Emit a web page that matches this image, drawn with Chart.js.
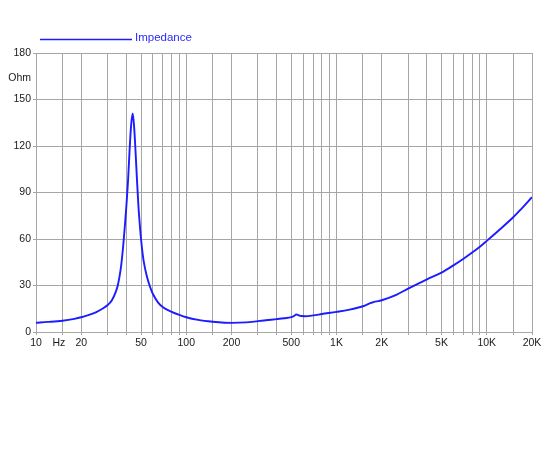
<!DOCTYPE html>
<html lang="en">
<head>
    <meta charset="UTF-8">
    <title>Impedance</title>
    <script src="https://cdn.jsdelivr.net/npm/chart.js"></script>
    <style>
        body {
            margin: 0;
            padding: 0;
            background: #ffffff;
        }
        #chart {
            display: block;
        }
    </style>
</head>
<body>
    <canvas id="chart" width="550" height="450"></canvas>

    <script>
        // impedance curve (Hz, Ohm)
        const freqs = [10, 12, 15, 18, 20, 22, 25, 28, 30, 32, 34, 35, 36, 37, 38, 39, 40, 41, 42, 43, 44, 45, 46, 47, 48, 49, 50, 52, 55, 58, 60, 65, 70, 80, 90, 100, 120, 150, 180, 200, 250, 300, 350, 400, 450, 500, 520, 540, 560, 580, 620, 700, 800, 1000, 1200, 1500, 1700, 1800, 1900, 2000, 2500, 3000, 4000, 5000, 6000, 7000, 8000, 9000, 10000, 12000, 15000, 17000, 20000];
        const ohms = [6.0, 6.5, 7.3, 8.5, 9.5, 10.7, 12.7, 15.3, 17.4, 20.5, 26, 30, 36, 44, 55, 68, 82, 98, 118, 134, 141, 132, 116, 98, 82, 70, 60, 46, 35, 28, 24.5, 19, 16, 13, 11, 9.5, 7.8, 6.6, 6.0, 5.9, 6.2, 7.0, 7.7, 8.3, 8.9, 9.6, 10.2, 11.3, 10.8, 10.3, 10.2, 10.7, 11.6, 13, 14.3, 16.6, 18.8, 19.6, 19.9, 20.5, 24, 28, 34, 38.3, 43, 47.3, 51.3, 55, 58.8, 65.5, 74, 79.5, 87];

        // grid lines on the frequency axis and the ones that carry a label
        const xGrid = [10, 15, 20, 30, 40, 50, 60, 70, 80, 90, 100, 150, 200, 300, 400, 500, 600, 700, 800, 900, 1000, 1500, 2000, 3000, 4000, 5000, 6000, 7000, 8000, 9000, 10000, 15000, 20000];
        const xLabelValues = [10, 14.2, 20, 50, 100, 200, 500, 1000, 2000, 5000, 10000, 20000];
        const xLabelTexts = ['10', 'Hz', '20', '50', '100', '200', '500', '1K', '2K', '5K', '10K', '20K'];

        const yGrid = [0, 30, 60, 90, 120, 150, 180];
        const yUnitValue = 163.5;
        const yUnitText = 'Ohm';

        const gridGray = '#a6a6a6';
        const curveBlue = '#1c1cff';
        const font = '"Liberation Sans", Arial, sans-serif';

        const legendLine = {
            id: 'legendLine',
            afterDraw(chart) {
                const ds = chart.data.datasets[0];
                const ctx = chart.ctx;
                ctx.save();
                ctx.strokeStyle = ds.borderColor;
                ctx.lineWidth = 1.4;
                ctx.beginPath();
                ctx.moveTo(40, 39.5);
                ctx.lineTo(132, 39.5);
                ctx.stroke();
                ctx.fillStyle = '#2a2aff';
                ctx.font = '11.5px ' + font;
                ctx.textBaseline = 'middle';
                ctx.fillText(ds.label, 135, 38);
                ctx.restore();
            }
        };

        const xTickValues = xGrid.concat([14.2]).sort((a, b) => a - b);
        const yTickValues = yGrid.concat([yUnitValue]).sort((a, b) => a - b);

        new Chart(document.getElementById('chart'), {
            type: 'line',
            data: {
                datasets: [{
                    label: 'Impedance',
                    data: freqs.map((f, i) => ({ x: f, y: ohms[i] })),
                    borderColor: curveBlue,
                    backgroundColor: curveBlue,
                    borderWidth: 1.9,
                    pointRadius: 0,
                    cubicInterpolationMode: 'monotone',
                    fill: false
                }]
            },
            options: {
                responsive: false,
                animation: false,
                layout: { padding: { top: 53, right: 18, bottom: 0, left: 0 } },
                plugins: {
                    legend: { display: false },
                    tooltip: { enabled: false }
                },
                scales: {
                    x: {
                        type: 'logarithmic',
                        min: 10,
                        max: 20000,
                        afterBuildTicks: s => { s.ticks = xTickValues.map(v => ({ value: v })); },
                        afterFit: s => { s.height = 118; },
                        grid: {
                            color: c => (c.tick && c.tick.value === 14.2) ? 'rgba(0,0,0,0)' : gridGray,
                            tickLength: 3
                        },
                        border: { color: gridGray },
                        ticks: {
                            autoSkip: false,
                            maxRotation: 0,
                            minRotation: 0,
                            padding: 2,
                            color: '#1a1a1a',
                            font: { family: font, size: 10.5 },
                            callback: v => {
                                const i = xLabelValues.indexOf(v);
                                return i >= 0 ? xLabelTexts[i] : '';
                            }
                        }
                    },
                    y: {
                        min: 0,
                        max: 180,
                        afterBuildTicks: s => { s.ticks = yTickValues.map(v => ({ value: v })); },
                        afterFit: s => { s.width = 36; },
                        grid: {
                            color: c => (c.tick && c.tick.value === yUnitValue) ? 'rgba(0,0,0,0)' : gridGray,
                            tickLength: 3
                        },
                        border: { color: gridGray },
                        ticks: {
                            padding: 2,
                            color: '#1a1a1a',
                            font: { family: font, size: 10.5 },
                            callback: v => v === yUnitValue ? yUnitText : String(v)
                        }
                    }
                }
            },
            plugins: [legendLine]
        });
    </script>
</body>
</html>
